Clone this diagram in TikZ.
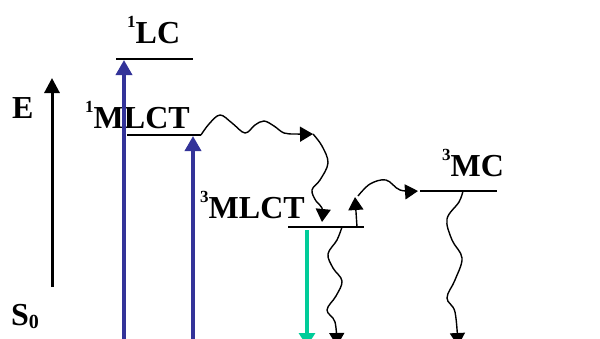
\documentclass[tikz,border=0pt]{standalone}
\usepackage{fontspec}
\setmainfont{Liberation Serif}
\usetikzlibrary{arrows.meta}
\definecolor{absblue}{RGB}{51,51,153}
\definecolor{emgreen}{RGB}{0,204,153}
\newcommand{\st}[2]{\raisebox{16pt}{\fontsize{17}{17}\selectfont #1}#2}
\tikzset{
  level/.style={line width=2pt},
  lbl/.style={inner sep=0pt, anchor=base west, font=\fontsize{32}{32}\selectfont\bfseries},
  absorb/.style={draw=absblue, line width=3.5pt, -{Triangle[length=15pt,width=16pt]}},
  emit/.style={draw=emgreen, line width=3.5pt, -{Triangle[length=13pt,width=16pt]}},
  wavy/.style={line width=1.4pt, -{Triangle[length=13pt,width=15pt]}},
  axis/.style={line width=3pt, -{Triangle[length=15pt,width=15pt]}}
}
\begin{document}
\begin{tikzpicture}[x=1pt,y=-1pt]
\useasboundingbox (0,0) rectangle (600,338);
\clip (0,0) rectangle (600,338);

% energy levels
\coordinate (lcL) at (116,59);   \coordinate (lcR) at (193,59);
\coordinate (smL) at (127,135);  \coordinate (smR) at (201,135);
\coordinate (tmL) at (288,227);  \coordinate (tmR) at (364,227);
\coordinate (mcL) at (420,191);  \coordinate (mcR) at (497,191);
\draw[level] (lcL) -- (lcR);
\draw[level] (smL) -- (smR);
\draw[level] (tmL) -- (tmR);
\draw[level] (mcL) -- (mcR);

% labels
\node[lbl] (lc)  at (127,43)  {\st{1}{LC}};
\node[lbl] (sm)  at (85,128)  {\st{1}{MLCT}};
\node[lbl] (tm)  at (200,218) {\st{3}{MLCT}};
\node[lbl] (mc)  at (442,176) {\st{3}{MC}};
\node[lbl] (en)  at (12,118)  {E};
\node[lbl] (gs)  at (11,325)  {S\raisebox{-3pt}{\fontsize{20}{20}\selectfont 0}};

% energy axis
\coordinate (axB) at (52,287);
\coordinate (axT) at (52,78);
\draw[axis] (axB) -- (axT);

% absorption
\coordinate (a1) at (124,345);
\coordinate (a1t) at (124,60);
\coordinate (a2) at (193,345);
\coordinate (a2t) at (193,136);
\draw[absorb] (a1) -- (a1t);
\draw[absorb] (a2) -- (a2t);

% emission
\coordinate (e1) at (307,230);
\coordinate (e1t) at (307,346);
\draw[emit] (e1) -- (e1t);

% intersystem crossing
\draw[wavy] plot[smooth, tension=0.6] coordinates
  {(smR) (209,124) (220,115) (232,123) (245,133) (255,125) (264,121) (274,126) (284,133) (296,134) (313,134)};
\draw[wavy] plot[smooth, tension=0.6] coordinates
  {(313,134) (322,146) (328,163) (320,180) (312,190) (316,201) (322,208) (322,222)};

% thermal population of 3MC
\draw[wavy] plot[smooth, tension=0.6] coordinates
  {(357,227) (356,212) (355,197)};
\draw[wavy] plot[smooth, tension=0.6] coordinates
  {(358,196) (370,184) (386,180) (400,190) (418,191)};

% non-radiative decay
\draw[wavy] plot[smooth, tension=0.6] coordinates
  {(342,227) (337,240) (328,254) (333,268) (342,281) (336,296) (327,310) (335,322) (337,346)};
\draw[wavy] plot[smooth, tension=0.6] coordinates
  {(463,191) (459,202) (447,219) (452,240) (462,258) (455,280) (447,298) (455,312) (458,346)};
\end{tikzpicture}
\end{document}
